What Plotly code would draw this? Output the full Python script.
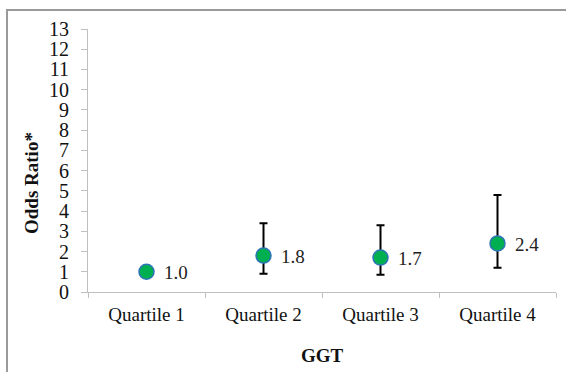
import plotly.graph_objects as go

# Odds ratios by GGT quartile with 95% confidence limits
categories = ["Quartile 1", "Quartile 2", "Quartile 3", "Quartile 4"]
odds_ratio = [1.0, 1.8, 1.7, 2.4]
ci_lower = [1.0, 0.9, 0.85, 1.2]
ci_upper = [1.0, 3.4, 3.3, 4.8]
y_ticks = list(range(0, 14))

err_plus = [u - v for u, v in zip(ci_upper, odds_ratio)]
err_minus = [v - l for v, l in zip(odds_ratio, ci_lower)]

W, H = 566, 372
L, R, T, B = 88, 10, 29, 80

serif = "Liberation Serif, Times New Roman, serif"

fig = go.Figure()
fig.add_trace(go.Scatter(
    x=categories,
    y=odds_ratio,
    mode="markers",
    marker=dict(size=15, color="#00B050", line=dict(color="#2E75B6", width=1.5)),
    error_y=dict(
        type="data",
        symmetric=False,
        array=err_plus,
        arrayminus=err_minus,
        color="black",
        thickness=2,
        width=4,
    ),
    showlegend=False,
    hoverinfo="skip",
))

# value labels beside each point
for c, v in zip(categories, odds_ratio):
    fig.add_annotation(
        x=c, y=v, text=f"{v:.1f}", showarrow=False,
        xanchor="left", yanchor="middle", xshift=15, yshift=-1,
        font=dict(family=serif, size=19, color="#222"),
    )

pw, ph = W - L - R, H - T - B
def px(xp):
    return (xp - L) / pw
def py(yp):
    return (H - B - yp) / ph

# y-axis title
fig.add_annotation(
    xref="paper", yref="paper",
    x=px(31), y=py(183),
    text="<b>Odds Ratio*</b>", textangle=-90, showarrow=False,
    xanchor="center", yanchor="middle",
    font=dict(family=serif, size=19, color="#111"),
)

# x-axis title
fig.add_annotation(
    xref="paper", yref="paper",
    x=0.5, y=py(355),
    text="<b>GGT</b>", showarrow=False,
    xanchor="center", yanchor="middle",
    font=dict(family=serif, size=19, color="#111"),
)

# frame lines around the chart area (top and left)
fig.add_shape(type="line", xref="paper", yref="paper",
              x0=px(6), x1=px(570), y0=py(10), y1=py(10),
              line=dict(color="#9a9a9a", width=2))
fig.add_shape(type="line", xref="paper", yref="paper",
              x0=px(7), x1=px(7), y0=py(9), y1=py(376),
              line=dict(color="#9a9a9a", width=2))

fig.update_layout(
    width=W, height=H,
    margin=dict(l=L, r=R, t=T, b=B),
    paper_bgcolor="white",
    plot_bgcolor="white",
    font=dict(family=serif, color="#111"),
    xaxis=dict(
        type="category",
        range=[-0.5, 3.5],
        showgrid=False,
        showline=True, linecolor="#bfbfbf", linewidth=1,
        ticks="outside", tickson="boundaries", ticklen=5, tickcolor="#bfbfbf",
        tickfont=dict(family=serif, size=19, color="#111"),
        ticklabelstandoff=5,
        zeroline=False,
    ),
    yaxis=dict(
        range=[0, 13],
        tickvals=y_ticks,
        showgrid=False,
        showline=True, linecolor="#bfbfbf", linewidth=1,
        ticks="outside", ticklen=6, tickcolor="#bfbfbf",
        tickfont=dict(family=serif, size=20, color="#111"),
        ticklabelstandoff=8,
        zeroline=False,
    ),
)

fig.write_html("out.html")
